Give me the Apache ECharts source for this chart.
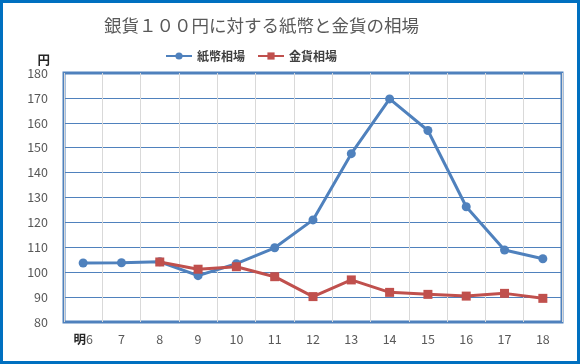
<!DOCTYPE html>
<html><head><meta charset="utf-8">
<script src="https://cdn.jsdelivr.net/npm/echarts@6/dist/echarts.min.js"></script>
<style>html,body{margin:0;padding:0;background:#fff}#c{width:580px;height:364px}</style>
</head><body><div id="c"></div>
<script>
const categories = ['6','7','8','9','10','11','12','13','14','15','16','17','18'];
const paperRate = [103.7, 103.8, 104.2, 98.6, 103.4, 109.8, 121.0, 147.6, 169.6, 156.9, 126.3, 108.9, 105.4];
const goldRate = [null, null, 104.1, 101.2, 102.2, 98.2, 90.2, 96.9, 91.9, 91.1, 90.4, 91.5, 89.5];
const seriesNames = ['紙幣相場', '金貨相場'];
const titleText = '銀貨１００円に対する紙幣と金貨の相場';

const font = '"Noto Sans CJK JP", "Noto Sans", sans-serif';
const chart = echarts.init(document.getElementById('c'));
chart.setOption({
  animation: false,
  title: { text: titleText, left: 99, top: 12,
    textStyle: { fontFamily: font, fontSize: 17.5, fontWeight: 'normal', color: '#595959' } },
  legend: { top: 45, left: 160, itemWidth: 26, itemHeight: 9, itemGap: 12,
    textStyle: { fontFamily: font, fontSize: 12, fontWeight: 'bold', color: '#404040' },
    data: seriesNames },
  grid: { left: 64, right: 18, top: 73, bottom: 42, show: true, borderColor: '#4F81BD', borderWidth: 3 },
  graphic: [{ type: 'rect', shape: { x: 1.5, y: 1.5, width: 577, height: 361 },
    style: { fill: 'none', stroke: '#0070C0', lineWidth: 3 }, silent: true }],
  xAxis: { type: 'category', data: categories, boundaryGap: true,
    axisLine: { show: false }, axisTick: { show: false },
    splitLine: { show: true, interval: 0, lineStyle: { color: '#D9D9D9', width: 1 } },
    axisLabel: { interval: 0, margin: 11, fontFamily: font, fontSize: 12.5, color: '#595959',
      formatter: (v, i) => i === 0 ? '{m|明}' + v : v,
      rich: { m: { fontFamily: font, fontSize: 12.5, fontWeight: 'bold', color: '#262626' } } } },
  yAxis: { type: 'value', min: 80, max: 180, interval: 10, name: '円',
    nameLocation: 'end', nameGap: 6,
    nameTextStyle: { fontFamily: font, fontSize: 12.5, fontWeight: 'bold', color: '#262626', align: 'right', padding: [0, 14, 0, 0] },
    axisLine: { show: false }, axisTick: { show: false },
    splitLine: { lineStyle: { color: '#4F81BD', width: 1 } },
    axisLabel: { margin: 16, fontFamily: font, fontSize: 12.5, color: '#595959' } },
  series: [
    { name: seriesNames[0], type: 'line', data: paperRate, symbol: 'circle', symbolSize: 9,
      lineStyle: { color: '#4F81BD', width: 3 }, itemStyle: { color: '#4F81BD' }, z: 3 },
    { name: seriesNames[1], type: 'line', data: goldRate, symbol: 'rect', symbolSize: 9,
      lineStyle: { color: '#C0504D', width: 3 }, itemStyle: { color: '#C0504D' }, z: 4 }
  ]
});
</script></body></html>
